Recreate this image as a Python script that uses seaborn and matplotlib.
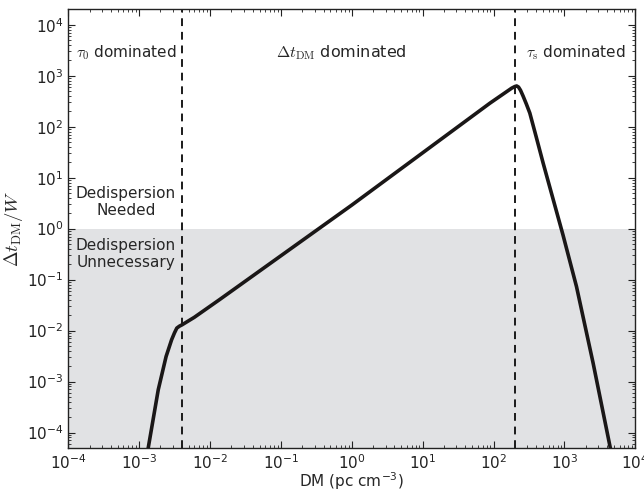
import numpy as np
import pandas as pd
import seaborn as sns
import matplotlib.pyplot as plt

# values
dm = [1.34e-3, 1.86e-3, 2.40e-3, 2.87e-3, 3.15e-3, 3.4e-3, 3.7e-3, 4.0e-3,
      6.0e-3, 0.0138, 1.0, 89.0, 180.0, 200.0, 212.0, 225.0, 240.0, 261.0,
      290.0, 325.0, 400.0, 501.0, 955.0, 1480.0, 2540.0, 4450.0]
ratio = [4.9e-5, 6.9e-4, 3.1e-3, 6.6e-3, 9.0e-3, 0.0112, 0.0122, 0.0129,
         0.0182, 0.041, 2.9, 290.0, 570.0, 615.0, 630.0, 600.0, 520.0, 400.0,
         280.0, 185.0, 63.0, 19.3, 0.75, 0.073, 2.3e-3, 4.9e-5]
boundaries = [4.0e-3, 200.0]
threshold = 1.0

df = pd.DataFrame({"DM": dm, "ratio": ratio})

sns.set_style("ticks")
plt.rcParams['font.family'] = ['DejaVu Sans']
plt.rcParams['axes.unicode_minus'] = False

fig = plt.figure(figsize=(6.44, 4.94), dpi=100)
ax = fig.add_axes([0.106, 0.0925, 0.8805, 0.8893])
ax.set_xscale("log")
ax.set_yscale("log")
ax.set_xlim(1e-4, 1e4)
ax.set_ylim(10**-4.31, 10**4.31)

# shaded "no dedispersion needed" region
ax.axhspan(1e-6, threshold, color="#e1e2e4", zorder=0, lw=0)

sns.lineplot(data=df, x="DM", y="ratio", ax=ax, color="#1a1717", lw=2.6,
             sort=False, estimator=None, zorder=3)

for b in boundaries:
    ax.axvline(b, color="#1a1a1a", ls=(0, (4, 3)), lw=1.4, zorder=2)

fs = 11
ytop = 10**3.45
ax.text(1.3e-4, ytop, r"$\tau_0$ dominated", fontsize=fs, va="center",
        math_fontfamily="cm")
ax.text(0.72, ytop, r"$\Delta t_{\rm DM}$ dominated", fontsize=11.5,
        va="center", ha="center", math_fontfamily="cm")
ax.text(290, ytop, r"$\tau_{\rm s}$ dominated", fontsize=fs, va="center",
        math_fontfamily="cm")
ax.text(6.5e-4, 10**0.53, "Dedispersion\nNeeded", fontsize=fs, ha="center",
        va="center", linespacing=1.15)
ax.text(6.5e-4, 10**-0.49, "Dedispersion\nUnnecessary", fontsize=fs,
        ha="center", va="center", linespacing=1.15)

ax.set_xlabel(r"DM (pc cm$^{-3}$)", fontsize=fs, labelpad=-1)
ax.set_ylabel(r"$\Delta t_{\rm DM}/W$", fontsize=13.5, math_fontfamily="cm",
              labelpad=1)

ax.set_xticks([10.0**k for k in range(-4, 5)])
ax.set_yticks([10.0**k for k in range(-4, 5)])
ax.tick_params(which="both", direction="in", top=True, right=True,
               labelsize=fs, colors="#222222")
ax.tick_params(which="major", length=5)
ax.tick_params(which="minor", length=2.5)
for s in ax.spines.values():
    s.set_color("#222222")
    s.set_linewidth(1.0)

fig.savefig("out.png", dpi=100)
